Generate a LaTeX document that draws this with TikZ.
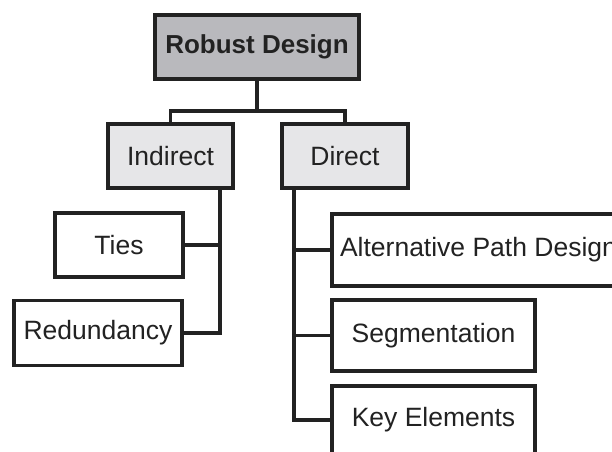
\documentclass[tikz,border=0pt]{standalone}
\usepackage{fontspec}
\setmainfont{Liberation Sans}
\definecolor{edge}{HTML}{222222}
\definecolor{rootfill}{HTML}{B9B9BD}
\definecolor{midfill}{HTML}{E6E6E8}
\begin{document}
\begin{tikzpicture}[x=1pt,y=-1pt,
  box/.style={draw=edge,line width=3.2pt,fill=white,text=edge,inner sep=0pt,
    font=\fontsize{26.5}{30}\selectfont},
  link/.style={draw=edge,line width=3.2pt}]
\useasboundingbox (0,0) rectangle (612,451);
% top level
\node[box,fill=rootfill,minimum width=204,minimum height=64,font=\fontsize{26}{30}\selectfont\bfseries]
  (root) at (257,47) {Robust Design};
% second level
\node[box,fill=midfill,minimum width=125,minimum height=64] (ind) at (170.5,156) {Indirect};
\node[box,fill=midfill,minimum width=126,minimum height=64] (dir) at (345,156) {Direct};
% indirect branch
\node[box,minimum width=128,minimum height=64] (ties) at (119,245) {Ties};
\node[box,minimum width=168,minimum height=65] (red) at (98,333) {Redundancy};
% direct branch
\node[box,minimum width=293,minimum height=72] (alt) at (478.5,250) {Alternative Path Design};
\node[box,minimum width=203,minimum height=71] (seg) at (433.5,335.5) {Segmentation};
\node[box,minimum width=203,minimum height=68] (key) at (433.5,420) {Key Elements};
% connectors
\coordinate (fork) at (257,111);
\draw[link] (root.south) -- (fork) -| (ind.north);
\draw[link] (fork) -| (dir.north);
\coordinate (ispine) at (220,333);
\draw[link] (ind.south -| ispine) -- (ispine) -- (red.east);
\draw[link] (ties.east) -- (ties.east -| ispine);
\coordinate (dspine) at (294,420);
\draw[link] (dir.south -| dspine) -- (dspine) -- (key.west);
\draw[link] (alt.west -| dspine) -- (alt.west);
\draw[link] (seg.west -| dspine) -- (seg.west);
\end{tikzpicture}
\end{document}
